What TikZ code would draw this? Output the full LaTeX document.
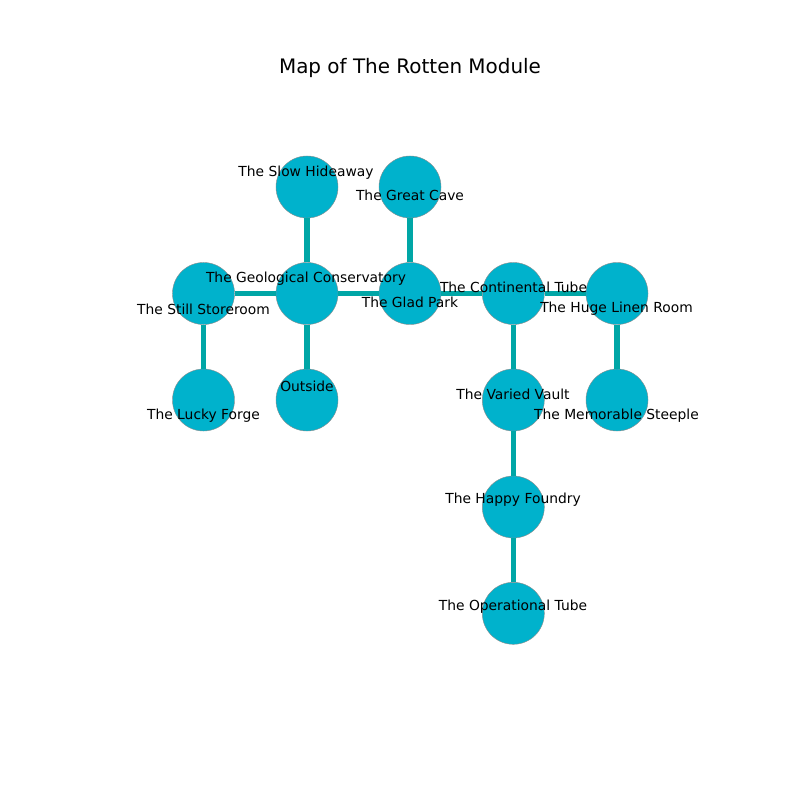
\documentclass[tikz,border=0pt]{standalone}
\usepackage{fontspec}
\setmainfont{DejaVu Sans}
\definecolor{nodefill}{HTML}{00B2CC}
\definecolor{edgecol}{HTML}{00A6A6}
\begin{document}
\begin{tikzpicture}[x=0.01in,y=-0.01in,
  room/.style={circle,fill=nodefill,draw=black!45,line width=0.3pt,minimum size=0.62in,inner sep=0pt},
  lbl/.style={font=\fontsize{10}{12}\selectfont,inner sep=0pt,anchor=center},
  link/.style={edgecol,line width=3.8pt}]
\useasboundingbox (0,0) rectangle (800,800);
\node[font=\fontsize{14.4}{17}\selectfont] (title) at (410,68) {Map of The Rotten Module};
% rooms
\node[room] (sh) at (307,187) {};
\node[room] (gc) at (410,187) {};
\node[room] (ss) at (203.5,293.5) {};
\node[room] (geo) at (307,293.5) {};
\node[room] (gp) at (410,293.5) {};
\node[room] (ct) at (513.3,293.5) {};
\node[room] (hl) at (617,293.5) {};
\node[room] (lf) at (203.5,400) {};
\node[room] (out) at (307,400) {};
\node[room] (vv) at (513.3,400) {};
\node[room] (ms) at (617,400) {};
\node[room] (hf) at (513.3,507) {};
\node[room] (ot) at (513.3,613.3) {};
% links
\draw[link] (sh) -- (geo);
\draw[link] (gc) -- (gp);
\draw[link] (ss) -- (geo);
\draw[link] (geo) -- (gp);
\draw[link] (gp) -- (ct);
\draw[link] (ct) -- (hl);
\draw[link] (ss) -- (lf);
\draw[link] (geo) -- (out);
\draw[link] (ct) -- (vv);
\draw[link] (hl) -- (ms);
\draw[link] (vv) -- (hf);
\draw[link] (hf) -- (ot);
% labels
\node[lbl] (lsh) at (306,173) {The Slow Hideaway};
\node[lbl] (lgc) at (410,195) {The Great Cave};
\node[lbl] (lgeo) at (306,279) {The Geological Conservatory};
\node[lbl] (lss) at (203.5,309) {The Still Storeroom};
\node[lbl] (lgp) at (410,302) {The Glad Park};
\node[lbl] (lct) at (513.5,287) {The Continental Tube};
\node[lbl] (lhl) at (616.5,309) {The Huge Linen Room};
\node[lbl] (llf) at (203.5,416) {The Lucky Forge};
\node[lbl] (lout) at (307,386) {Outside};
\node[lbl] (lvv) at (513,394) {The Varied Vault};
\node[lbl] (lms) at (616.5,416) {The Memorable Steeple};
\node[lbl] (lhf) at (513,500) {The Happy Foundry};
\node[lbl] (lot) at (513,607) {The Operational Tube};
\end{tikzpicture}
\end{document}
